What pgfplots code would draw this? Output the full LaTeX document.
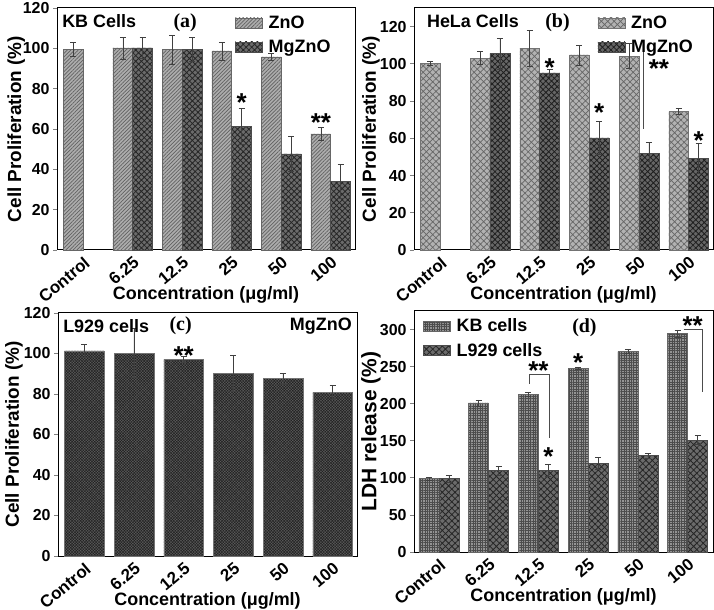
\documentclass[border=0pt]{standalone}
\usepackage{fontspec}
\setmainfont{Liberation Sans}
\newfontfamily\timesbf{Liberation Serif}
\usepackage{pgfplots}
\pgfplotsset{compat=1.18}
\usetikzlibrary{patterns.meta}

\tikzset{
  aZnO/.style={fill=black!32, draw=black!60, line width=0.5bp, postaction={pattern={Lines[angle=45,distance=2.6bp,line width=0.7bp]}, pattern color=black!62}},
  aMg/.style={fill=black!58, draw=black!70, line width=0.5bp, postaction={pattern={Hatch[angle=45,distance=4bp,line width=0.8bp]}, pattern color=black!85}},
  bZnO/.style={fill=black!30, draw=black!55, line width=0.5bp, postaction={pattern={Hatch[angle=45,distance=4.5bp,line width=0.7bp]}, pattern color=black!60}},
  bMg/.style={fill=black!60, draw=black!70, line width=0.5bp, postaction={pattern={Hatch[angle=45,distance=4bp,line width=0.8bp]}, pattern color=black!88}},
  cMg/.style={fill=black!64, draw=black!55, line width=0.5bp, postaction={pattern={Hatch[angle=45,distance=2bp,line width=0.5bp]}, pattern color=black!87}},
  dKB/.style={fill=black!42, draw=black!60, line width=0.5bp, postaction={pattern={Hatch[angle=0,distance=2.4bp,line width=0.6bp]}, pattern color=black!70}},
  dL/.style={fill=black!58, draw=black!70, line width=0.5bp, postaction={pattern={Hatch[angle=45,distance=4.5bp,line width=0.8bp]}, pattern color=black!85}},
  star/.style={font=\bfseries\fontsize{26}{26}\selectfont, inner sep=0pt},
  panlab/.style={font=\timesbf\bfseries\fontsize{20}{20}\selectfont, inner sep=0pt},
  celltxt/.style={font=\bfseries\fontsize{18}{18}\selectfont, inner sep=0pt},
}

\pgfplotsset{
  panel/.style={
    scale only axis, width=298bp, height=242bp,
    ybar, bar width=0.4,
    xmin=-0.53, xmax=5.49, ymin=0,
    xtick={0,...,5}, xticklabels={Control,6.25,12.5,25,50,100},
    xtick style={draw=none},
    ytick pos=left, tick align=outside, major tick length=4bp,
    ytick style={line width=0.8bp},
    axis line style={line width=1bp},
    /pgf/number format/assume math mode=true,
    yticklabel style={font=\bfseries\fontsize{16}{16}\selectfont},
    xticklabel style={font=\bfseries\fontsize{17}{17}\selectfont, rotate=40, anchor=north east, inner sep=1bp},
    label style={font=\bfseries\fontsize{18}{18}\selectfont},
    xlabel={Concentration (μg/ml)},
    xlabel style={at={(axis description cs:0.5,0)}, anchor=north, yshift=-33bp},
    ylabel style={at={(axis description cs:-0.137,0.5)}, anchor=center, font=\bfseries\fontsize{19}{19}\selectfont},
    legend image code/.code={\draw[##1] (0bp,-5bp) rectangle (27bp,5bp); \path (31bp,0bp);},
    legend style={draw=none, fill=none, font=\bfseries\fontsize{18}{18}\selectfont, row sep=6bp},
    legend cell align=left,
    error bars/y dir=both, error bars/y explicit,
    error bars/error bar style={line width=0.6bp, draw=black!75},
    error bars/error mark options={rotate=90, mark size=3bp, line width=0.6bp, draw=black!75},
    clip=false,
  },
}

\pgfplotstableread{
x y e
0 99.5 3.3
1 100.2 5.4
2 99.3 7
3 98.7 4.5
4 95.8 1.5
5 57.6 3
}\aZnOdata
\pgfplotstableread{
x y e
1 100.2 5.2
2 99.6 6
3 61.3 8.8
4 47.7 8.5
5 34 8.6
}\aMgdata
\pgfplotstableread{
x y e
0 100.3 1.3
1 103 3.5
2 108.4 9.6
3 104.8 5.4
4 104.2 6.8
5 74.5 1.5
}\bZnOdata
\pgfplotstableread{
x y e
1 105.5 8.3
2 95.1 2
3 60.2 8.7
4 52.1 5.8
5 49.3 8.2
}\bMgdata
\pgfplotstableread{
x y e
0 101.3 3
1 100.2 12
2 97.2 1.5
3 90.1 9
4 87.8 2.5
5 80.9 3.5
}\cdata
\pgfplotstableread{
x y e
0 99 2
1 201 4
2 212.5 3
3 247.5 1.3
4 270.3 3
5 294.6 5
}\dKBdata
\pgfplotstableread{
x y e
0 99 4.5
1 109.6 5.5
2 109.6 8
3 119.4 8.5
4 129.8 3
5 150.9 6
}\dLdata

\begin{document}
\begin{tikzpicture}
\path[use as bounding box] (0bp,0bp) rectangle (714bp,610bp);

% (a)
\begin{axis}[panel, at={(57bp,360bp)}, anchor=south west,
  ymax=120, ytick={0,20,...,120},
  ylabel={Cell Proliferation (\%)},
  legend style={at={(axis description cs:0.935,0.985)}, anchor=north east}]
\addplot[aZnO, bar shift=-0.2] table[x=x,y=y,y error=e] {\aZnOdata};
\addlegendentry{ZnO}
\addplot[aMg, bar shift=0.2] table[x=x,y=y,y error=e] {\aMgdata};
\addlegendentry{MgZnO}
\node[celltxt, anchor=west] at (axis description cs:0.017,0.944) {KB Cells};
\node[panlab] at (axis description cs:0.43,0.94) {(a)};
\node[star] at (axis cs:3.2,73) {*};
\node[star] at (axis cs:4.8,63) {**};
\end{axis}

% (b)
\begin{axis}[panel, at={(414bp,360bp)}, anchor=south west, width=299bp,
  ymax=130, ytick={0,20,...,120},
  ylabel={Cell Proliferation (\%)},
  ylabel style={at={(axis description cs:-0.144,0.5)}},
  legend style={at={(axis description cs:0.95,0.985)}, anchor=north east}]
\addplot[bZnO, bar shift=-0.2] table[x=x,y=y,y error=e] {\bZnOdata};
\addlegendentry{ZnO}
\addplot[bMg, bar shift=0.2] table[x=x,y=y,y error=e] {\bMgdata};
\addlegendentry{MgZnO}
\node[celltxt, anchor=west] at (axis description cs:0.043,0.944) {HeLa Cells};
\node[panlab] at (axis description cs:0.48,0.94) {(b)};
\node[star] at (axis cs:2.2,97.8) {*};
\node[star] at (axis cs:3.2,73.8) {*};
\node[star] at (axis cs:4.4,97.5) {**};
\node[star] at (axis cs:5.2,58.8) {*};
\draw[line width=0.6bp, black!70] (axis cs:4.08,111) -- (axis cs:4.08,65);
\end{axis}

% (c)
\begin{axis}[panel, at={(58bp,54bp)}, anchor=south west, width=299bp, height=243bp,
  bar width=0.8,
  ymax=120, ytick={0,20,...,120},
  ylabel={Cell Proliferation (\%)},
  ylabel style={at={(axis description cs:-0.147,0.5)}}]
\addplot[cMg, bar shift=0] table[x=x,y=y,y error=e] {\cdata};
\node[celltxt, anchor=west] at (axis description cs:0.017,0.946) {L929 cells};
\node[panlab] at (axis description cs:0.41,0.946) {(c)};
\node[celltxt, anchor=east] at (axis description cs:0.983,0.946) {MgZnO};
\node[star] at (axis cs:2,99) {**};
\end{axis}

% (d)
\begin{axis}[panel, at={(414bp,58bp)}, anchor=south west, width=299bp, height=241bp,
  xmin=-0.5, xmax=5.51,
  ymax=325, ytick={0,50,...,300},
  ylabel={LDH release (\%)},
  ylabel style={at={(axis description cs:-0.144,0.5)}, font=\bfseries\fontsize{21}{21}\selectfont},
  legend style={at={(axis description cs:0.02,0.985)}, anchor=north west}]
\addplot[dKB, bar shift=-0.2] table[x=x,y=y,y error=e] {\dKBdata};
\addlegendentry{KB cells}
\addplot[dL, bar shift=0.2] table[x=x,y=y,y error=e] {\dLdata};
\addlegendentry{L929 cells}
\node[panlab] at (axis description cs:0.57,0.93) {(d)};
\draw[line width=0.6bp, black!70] (axis cs:1.81,226.8) -- (axis cs:1.81,240.2) -- (axis cs:2.21,240.2) -- (axis cs:2.21,153.6);
\node[star] at (axis cs:2.0,244) {**};
\node[star] at (axis cs:2.2,129) {*};
\node[star] at (axis cs:2.8,255) {*};
\draw[line width=0.6bp, black!70] (axis cs:4.92,300.8) -- (axis cs:5.29,300.8) -- (axis cs:5.29,215.5);
\node[star] at (axis cs:5.1,305.5) {**};
\end{axis}
\end{tikzpicture}
\end{document}
